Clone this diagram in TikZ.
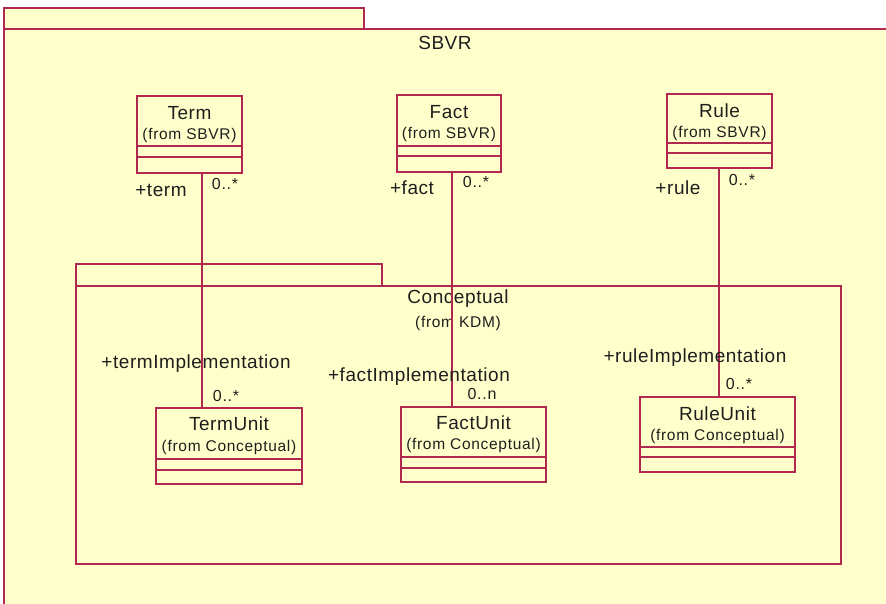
\documentclass[tikz,border=0pt]{standalone}
\usepackage{fontspec}
\setmainfont{Liberation Sans}
\definecolor{umlline}{RGB}{176,40,80}
\definecolor{umlfill}{RGB}{255,255,204}
\definecolor{umltext}{RGB}{30,30,30}
\newfontfamily\bigfam[LetterSpace=3]{Liberation Sans}
\newfontfamily\smallfam[LetterSpace=4.5]{Liberation Sans}
\begin{document}
\begin{tikzpicture}[x=1pt,y=-1pt,
  pkg/.style={draw=umlline,fill=umlfill,line width=1.3pt},
  cls/.style={draw=umlline,fill=umlfill,line width=1.3pt,inner sep=0pt},
  assoc/.style={draw=umlline,line width=1.3pt},
  divider/.style={draw=umlline,line width=1.2pt},
  bigtxt/.style={text=umltext,inner sep=0pt,font=\bigfam\fontsize{19}{21}\selectfont},
  smalltxt/.style={text=umltext,inner sep=0pt,font=\smallfam\fontsize{15.5}{17}\selectfont},
  multtxt/.style={text=umltext,inner sep=0pt,font=\smallfam\fontsize{16}{18}\selectfont}]
\useasboundingbox (0,0) rectangle (886,604);
\fill[white] (0,0) rectangle (886,604);
% outer package SBVR
\fill[umlfill] (4,8) rectangle (364,29);
\fill[umlfill] (4,29) rectangle (886,604);
\draw[umlline,line width=1.3pt] (4,29) -- (4,8) -- (364,8) -- (364,29);
\draw[umlline,line width=1.3pt] (886,29) -- (4,29) -- (4,604);
\node[bigtxt] (sbvr) at (445,43) {SBVR};
% inner package Conceptual
\draw[pkg] (76,264) rectangle (382,286);
\draw[pkg] (76,286) rectangle (841,564);
\node[bigtxt] (concept) at (458,299) {Conceptual};
\node[smalltxt] (conceptfrom) at (458,323) {(from KDM)};
% class boxes
\node[cls,minimum width=105,minimum height=77] (term) at (189.5,134.5) {};
\node[cls,minimum width=104,minimum height=77] (fact) at (449,133.5) {};
\node[cls,minimum width=105,minimum height=74] (rule) at (719.5,131) {};
\node[cls,minimum width=146,minimum height=76] (termunit) at (229,446) {};
\node[cls,minimum width=145,minimum height=75] (factunit) at (473.5,444.5) {};
\node[cls,minimum width=155,minimum height=75] (ruleunit) at (717.5,434.5) {};
% dividers
\coordinate (t1) at (0,146); \coordinate (t2) at (0,157);
\draw[divider] (term.west |- t1) -- (term.east |- t1);
\draw[divider] (term.west |- t2) -- (term.east |- t2);
\coordinate (f1) at (0,146); \coordinate (f2) at (0,156);
\draw[divider] (fact.west |- f1) -- (fact.east |- f1);
\draw[divider] (fact.west |- f2) -- (fact.east |- f2);
\coordinate (r1) at (0,143); \coordinate (r2) at (0,153);
\draw[divider] (rule.west |- r1) -- (rule.east |- r1);
\draw[divider] (rule.west |- r2) -- (rule.east |- r2);
\coordinate (tu1) at (0,459); \coordinate (tu2) at (0,470);
\draw[divider] (termunit.west |- tu1) -- (termunit.east |- tu1);
\draw[divider] (termunit.west |- tu2) -- (termunit.east |- tu2);
\coordinate (fu1) at (0,457); \coordinate (fu2) at (0,468);
\draw[divider] (factunit.west |- fu1) -- (factunit.east |- fu1);
\draw[divider] (factunit.west |- fu2) -- (factunit.east |- fu2);
\coordinate (ru1) at (0,447); \coordinate (ru2) at (0,457);
\draw[divider] (ruleunit.west |- ru1) -- (ruleunit.east |- ru1);
\draw[divider] (ruleunit.west |- ru2) -- (ruleunit.east |- ru2);
% class texts
\node[bigtxt] (termname) at (189.5,113) {Term};
\node[smalltxt] (termfrom) at (189.5,135) {(from SBVR)};
\node[bigtxt] (factname) at (449,112) {Fact};
\node[smalltxt] (factfrom) at (449,134) {(from SBVR)};
\node[bigtxt] (rulename) at (719.5,111) {Rule};
\node[smalltxt] (rulefrom) at (719.5,133) {(from SBVR)};
\node[bigtxt] (termunitname) at (229,424) {TermUnit};
\node[smalltxt] (termunitfrom) at (229,447) {(from Conceptual)};
\node[bigtxt] (factunitname) at (473.5,423) {FactUnit};
\node[smalltxt] (factunitfrom) at (473.5,445) {(from Conceptual)};
\node[bigtxt] (ruleunitname) at (717.5,414) {RuleUnit};
\node[smalltxt] (ruleunitfrom) at (717.5,436) {(from Conceptual)};
% associations
\coordinate (tx) at (202,0);
\coordinate (fx) at (452,0);
\coordinate (rx) at (719,0);
\draw[assoc] (term.south -| tx) -- (termunit.north -| tx);
\draw[assoc] (fact.south -| fx) -- (factunit.north -| fx);
\draw[assoc] (rule.south -| rx) -- (ruleunit.north -| rx);
% role names and multiplicities
\node[bigtxt] (lterm) at (161,190) {+term};
\node[multtxt] (mterm) at (225,184) {0..*};
\node[bigtxt] (lfact) at (412,188) {+fact};
\node[multtxt] (mfact) at (476,182) {0..*};
\node[bigtxt] (lrule) at (678,188) {+rule};
\node[multtxt] (mrule) at (742,180) {0..*};
\node[bigtxt] (ltermimpl) at (196,364) {+termImplementation};
\node[multtxt] (mtermimpl) at (226,396) {0..*};
\node[bigtxt] (lfactimpl) at (419,377) {+factImplementation};
\node[multtxt] (mfactimpl) at (482,394) {0..n};
\node[bigtxt] (lruleimpl) at (695,358) {+ruleImplementation};
\node[multtxt] (mruleimpl) at (739,384) {0..*};
\end{tikzpicture}
\end{document}
